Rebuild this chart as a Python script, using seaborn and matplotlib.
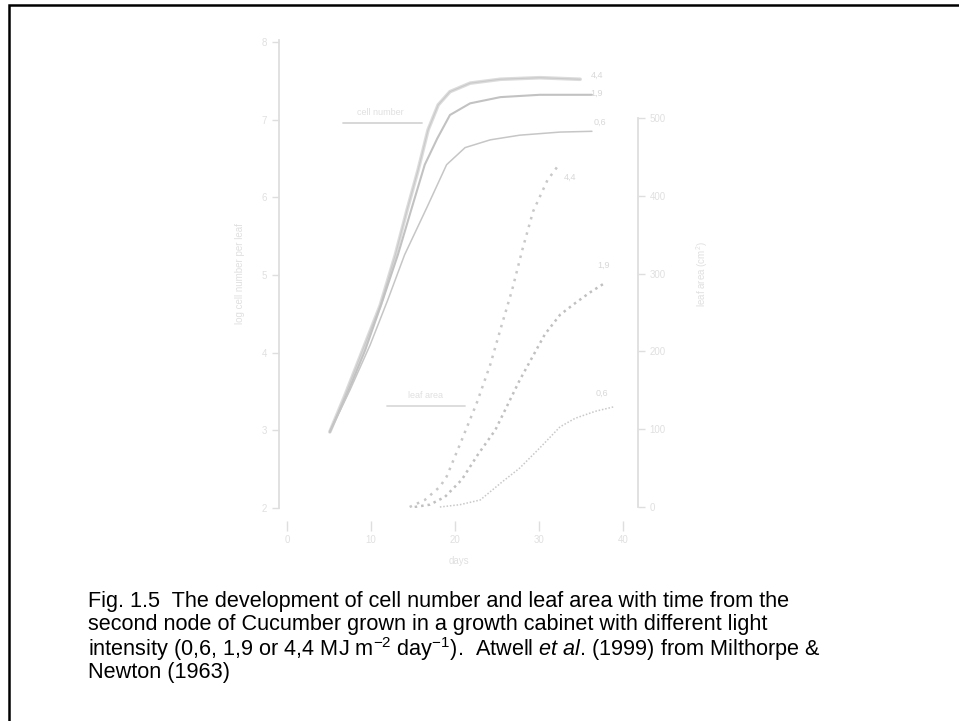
import matplotlib
matplotlib.use("Agg")
import matplotlib.pyplot as plt
import seaborn as sns
import pandas as pd
from matplotlib.patches import Rectangle

# ---- data ----
days_tick_labels = ["0", "10", "20", "30", "40"]
x_ticks = [0, 10, 20, 30, 40]
left_ticks = [2, 3, 4, 5, 6, 7, 8]
right_ticks = [0, 100, 200, 300, 400, 500]

# log cell number curves (left axis)
cell_44_day = [5.1, 6.9, 9.0, 11.1, 12.9, 14.3, 15.6, 16.8, 18.0, 19.4, 21.8, 25.4, 30.1, 34.9]
cell_44_val = [2.98, 3.45, 4.03, 4.61, 5.26, 5.84, 6.35, 6.87, 7.19, 7.36, 7.47, 7.52, 7.54, 7.52]
cell_19_day = [5.1, 7.1, 9.3, 11.4, 13.2, 14.9, 16.4, 17.9, 19.4, 21.8, 25.4, 30.1, 36.3]
cell_19_val = [2.98, 3.45, 4.03, 4.68, 5.26, 5.88, 6.42, 6.76, 7.06, 7.21, 7.29, 7.32, 7.32]
cell_06_day = [5.1, 7.5, 9.9, 12.0, 14.0, 16.7, 19.0, 21.2, 24.2, 27.7, 32.5, 36.3]
cell_06_val = [2.98, 3.52, 4.10, 4.68, 5.26, 5.88, 6.42, 6.64, 6.74, 6.80, 6.84, 6.85]

# leaf area curves (right axis)
area_44_day = [14.6, 16.4, 18.2, 19.0, 20.8, 22.6, 24.2, 25.4, 26.8, 28.0, 29.3, 31.0, 32.5]
area_44_val = [0, 9, 26, 39, 86, 134, 183, 228, 279, 330, 380, 420, 442]
area_19_day = [15.2, 17.0, 18.8, 20.8, 22.7, 24.8, 27.7, 30.7, 32.5, 34.3, 36.1, 37.7]
area_19_val = [0, 3, 13, 35, 67, 99, 163, 222, 247, 262, 276, 287]
area_06_day = [18.2, 20.6, 23.0, 25.7, 27.7, 30.1, 32.5, 34.3, 36.7, 39.0]
area_06_val = [0, 3, 9, 33, 50, 76, 103, 114, 123, 129]

curve_labels = ["4,4", "1,9", "0,6"]

caption_lines = [
    "Fig. 1.5  The development of cell number and leaf area with time from the",
    "second node of Cucumber grown in a growth cabinet with different light",
    r"intensity (0,6, 1,9 or 4,4 MJ m$^{\mathregular{-2}}$ day$^{\mathregular{-1}}$).  Atwell $\mathit{et\ al}$. (1999) from Milthorpe &",
    "Newton (1963)",
]

# ---- styling ----
sns.set_style("white")
plt.rcParams["font.family"] = ["Liberation Sans", "DejaVu Sans"]
plt.rcParams["mathtext.fontset"] = "custom"
plt.rcParams["mathtext.rm"] = "Liberation Sans"
plt.rcParams["mathtext.it"] = "Liberation Sans:italic"

W, H = 959, 721
fig = plt.figure(figsize=(W / 100, H / 100), dpi=100)
fig.patch.set_facecolor("white")

def fx(px):
    return px / W

def fy(py):
    return 1 - py / H

ax = fig.add_axes([fx(279), fy(508), (638 - 279) / W, (508 - 40) / H])
ax.set_facecolor("none")
ax2 = ax.twinx()

faint_text = "#e0e0e0"
faint_spine = "#dedede"

def draw(axis, d, v, **kw):
    df = pd.DataFrame({"day": d, "val": v})
    sns.lineplot(data=df, x="day", y="val", ax=axis, sort=False, estimator=None, legend=False, **kw)

draw(ax, cell_44_day, cell_44_val, color="#dcdcdc", linewidth=2.6)
draw(ax, cell_44_day, cell_44_val, color="#cacaca", linewidth=0.8)
draw(ax, cell_19_day, cell_19_val, color="#c2c2c2", linewidth=1.5)
draw(ax, cell_06_day, cell_06_val, color="#c6c6c6", linewidth=1.1)

draw(ax2, area_44_day, area_44_val, color="#c8c8c8", linewidth=1.8, linestyle=(0, (1, 2.2)))
draw(ax2, area_19_day, area_19_val, color="#c0c0c0", linewidth=1.8, linestyle=(0, (1, 1.6)))
draw(ax2, area_06_day, area_06_val, color="#c8c8c8", linewidth=1.1, linestyle=(0, (1, 1.2)))

xmin = (279 - 287) / 8.4
xmax = (638 - 287) / 8.4
ax.set_xlim(xmin, xmax)
ax.set_ylim(2, 2 + (508 - 40) / 77.67)
ax2.set_ylim((507 - 508) / 0.778, (507 - 40) / 0.778)

ax.set_xticks(x_ticks)
ax.set_xticklabels(days_tick_labels)
ax.set_yticks(left_ticks)
ax.set_yticklabels([str(t) for t in left_ticks])
ax2.set_yticks(right_ticks)
ax2.set_yticklabels([str(t) for t in right_ticks])

for a in (ax, ax2):
    for s in a.spines.values():
        s.set_visible(False)
ax.spines["left"].set_visible(True)
ax.spines["left"].set_color(faint_spine)
ax.spines["left"].set_linewidth(1.3)
ax.spines["bottom"].set_visible(True)
ax.spines["bottom"].set_color("none")
ax.spines["bottom"].set_position(("outward", 9))
ax2.spines["right"].set_visible(True)
ax2.spines["right"].set_color(faint_spine)
ax2.spines["right"].set_linewidth(1.3)
ax2.spines["right"].set_bounds(0, 500)

ax.tick_params(axis="x", colors=faint_spine, labelcolor=faint_text, length=7, width=1.0, labelsize=7, direction="out", bottom=True)
ax.tick_params(axis="y", colors=faint_spine, labelcolor=faint_text, length=5, width=1.0, labelsize=7, direction="out", left=True)
ax2.tick_params(axis="y", colors=faint_spine, labelcolor=faint_text, length=5, width=1.0, labelsize=7, direction="out", right=True)
ax.grid(False)
ax2.grid(False)

ax.set_xlabel("days", color=faint_text, fontsize=7, labelpad=8)
ax.set_ylabel("log cell number per leaf", color=faint_text, fontsize=7, labelpad=12)
ax2.set_ylabel("leaf area (cm$^{\\mathregular{2}}$)", color=faint_text, fontsize=7, labelpad=20)

# curve labels and annotations (figure pixel placement)
label_pos = [(597, 75), (597, 93), (600, 122)]
for (px, py), t in zip(label_pos, curve_labels):
    fig.text(fx(px), fy(py), t, color="#d8d8d8", fontsize=6.5, ha="center", va="center")
area_label_pos = [(570, 177), (604, 265), (602, 393)]
for (px, py), t in zip(area_label_pos, curve_labels):
    fig.text(fx(px), fy(py), t, color="#d8d8d8", fontsize=6.5, ha="center", va="center")

fig.text(fx(380), fy(117), "cell number", color=faint_text, fontsize=6.5, ha="center", va="bottom")
fig.add_artist(matplotlib.lines.Line2D([fx(343), fx(422)], [fy(123), fy(123)], color="#d4d4d4", lw=1.3))
fig.text(fx(425), fy(400), "leaf area", color=faint_text, fontsize=6.5, ha="center", va="bottom")
fig.add_artist(matplotlib.lines.Line2D([fx(387), fx(465)], [fy(406), fy(406)], color="#dadada", lw=1.3))

# caption
for i, line in enumerate(caption_lines):
    fig.text(fx(88), fy(601 + 23.8 * i), line, fontsize=15.6, color="black", ha="left", va="center")

# frame
fig.add_artist(Rectangle((fx(8.5), fy(730)), 1.1, fy(5) - fy(730), transform=fig.transFigure,
                         fill=False, edgecolor="black", linewidth=1.8))

fig.savefig("out.png", dpi=100)
